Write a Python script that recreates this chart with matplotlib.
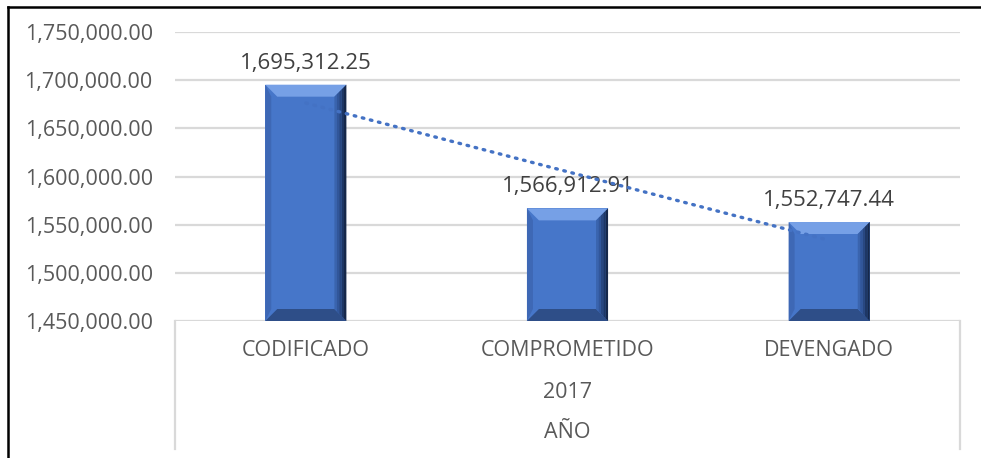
import numpy as np
import matplotlib
matplotlib.use("Agg")
import matplotlib.pyplot as plt
from matplotlib.lines import Line2D
from matplotlib.patches import Polygon

# datos
categorias = ["CODIFICADO", "COMPROMETIDO", "DEVENGADO"]
valores = [1695312.25, 1566912.91, 1552747.44]
anio = "2017"
titulo_eje = "AÑO"
y_ticks = [1450000, 1500000, 1550000, 1600000, 1650000, 1700000, 1750000]

TXT = "#595959"
GRID = "#D9D9D9"
FACE = "#4676C9"

plt.rcParams["font.family"] = ["Open Sans", "DejaVu Sans"]

W, H = 981, 458
fig = plt.figure(figsize=(W / 100, H / 100), dpi=100, facecolor="white")
ax = fig.add_axes([175 / W, 1 - 321 / H, 785 / W, 289 / H])
ax.set_xlim(-0.5, len(categorias) - 0.5)
ax.set_ylim(y_ticks[0], y_ticks[-1])
for s in ax.spines.values():
    s.set_visible(False)
ax.set_yticks(y_ticks)
ax.set_yticklabels([f"{v:,.2f}" for v in y_ticks])
ax.tick_params(axis="y", length=0, pad=16, labelsize=15.5, labelcolor=TXT)
ax.set_xticks([])
ax.grid(axis="y", color=GRID, lw=1.6)
ax.set_axisbelow(True)

x = np.arange(len(categorias))
bw = 0.31
bars = ax.bar(x, valores, width=bw, color=FACE, zorder=2)

# bisel estilo Excel, en pixeles convertidos a datos
p0 = ax.transData.transform((0, 0))
p1 = ax.transData.transform((1, 100000))
dx = 12 / (p1[0] - p0[0])
dy = 12 / ((p1[1] - p0[1]) / 100000)
for b in bars:
    x0, x1 = b.get_x(), b.get_x() + b.get_width()
    y0, y1 = y_ticks[0], b.get_height()
    sides = [
        ([(x0, y1), (x1, y1), (x1 - dx, y1 - dy), (x0 + dx, y1 - dy)], "#76A0E6"),
        ([(x0, y0), (x0, y1), (x0 + dx * 0.5, y1 - dy), (x0 + dx * 0.5, y0 + dy)], "#3E68B5"),
        ([(x0, y0), (x1, y0), (x1 - dx, y0 + dy), (x0 + dx, y0 + dy)], "#2E4E88"),
    ]
    for pts, c in sides:
        ax.add_patch(Polygon(pts, closed=True, color=c, lw=0, zorder=3))
    # lado derecho con degradado
    n = 5
    cols = ["#3A64AE", "#31569A", "#284780", "#1E3765", "#16284A"]
    for i in range(n):
        a = x1 - dx + dx * i / n
        bb = x1 - dx + dx * (i + 1) / n
        ya = y1 - dy * (1 - i / n)
        yb = y1 - dy * (1 - (i + 1) / n)
        za = y0 + dy * (1 - i / n)
        zb = y0 + dy * (1 - (i + 1) / n)
        ax.add_patch(Polygon([(a, za), (a, ya), (bb, yb), (bb, zb)], closed=True,
                             color=cols[i], lw=0, zorder=3))
    ax.annotate(f"{b.get_height():,.2f}", (b.get_x() + b.get_width() / 2, y1),
                xytext=(0, 11), textcoords="offset pixels", ha="center", va="bottom",
                fontsize=16, color="#404040", zorder=4)

# linea de tendencia lineal
k, c0 = np.polyfit(x, valores, 1)
ax.plot(x, k * x + c0, ls=(0, (0.5, 2.0)), lw=2.4, color="#4472C4",
        dash_capstyle="round", zorder=5, clip_on=False)

# eje de categorias multinivel
for xi, cat in zip(x, categorias):
    ax.annotate(cat, (xi, 0), xycoords=("data", "axes fraction"), xytext=(0, -29),
                textcoords="offset pixels", ha="center", va="center",
                fontsize=15.5, color=TXT)
ax.annotate(anio, (0.5, 0), xycoords="axes fraction", xytext=(0, -71),
            textcoords="offset pixels", ha="center", va="center", fontsize=15.5, color=TXT)
ax.annotate(titulo_eje, (0.5, 0), xycoords="axes fraction", xytext=(0, -112),
            textcoords="offset pixels", ha="center", va="center", fontsize=15.5, color=TXT)

for xp in (175, 960):
    fig.add_artist(Line2D([xp / W, xp / W], [1 - 321 / H, 1 - 449 / H],
                          color=GRID, lw=1.6))

# marco exterior
fig.add_artist(Line2D([8 / W, 1], [1 - 7 / H, 1 - 7 / H], color="black", lw=1.8))
fig.add_artist(Line2D([8 / W, 8 / W], [1 - 7 / H, 0], color="black", lw=1.8))

fig.savefig("out.png", dpi=100, facecolor="white")
